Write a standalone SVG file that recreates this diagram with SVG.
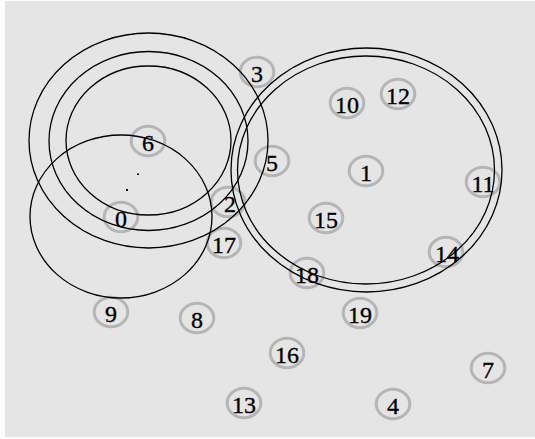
<svg xmlns="http://www.w3.org/2000/svg" width="535" height="439" viewBox="0 0 535 439">
<style>
.ring{fill:none;stroke:#b5b5b5;stroke-width:3}
.lbl{font-family:"Liberation Serif","Times New Roman",serif;font-size:24px;fill:#000;stroke:#000;stroke-width:0.35;text-anchor:middle}
.arc{fill:none;stroke:#000;stroke-width:1.3}
</style>
<rect x="0" y="0" width="535" height="439" fill="#ffffff"/>
<rect x="5" y="1" width="530" height="436" fill="#e5e5e5"/>
<g id="nodes">
<g id="n0"><ellipse class="ring" cx="121" cy="217" rx="16.8" ry="14.7"/><text class="lbl" x="121" y="227">0</text></g>
<g id="n1"><ellipse class="ring" cx="366" cy="171" rx="16.8" ry="14.7"/><text class="lbl" x="366" y="181">1</text></g>
<g id="n2"><ellipse class="ring" cx="228" cy="202" rx="16.8" ry="14.7"/><text class="lbl" x="230" y="212">2</text></g>
<g id="n3"><ellipse class="ring" cx="257" cy="72" rx="16.8" ry="14.7"/><text class="lbl" x="257" y="82">3</text></g>
<g id="n4"><ellipse class="ring" cx="393" cy="404" rx="16.8" ry="14.7"/><text class="lbl" x="393" y="414">4</text></g>
<g id="n5"><ellipse class="ring" cx="272" cy="161" rx="16.8" ry="14.7"/><text class="lbl" x="272" y="171">5</text></g>
<g id="n6"><ellipse class="ring" cx="148" cy="141" rx="16.8" ry="14.7"/><text class="lbl" x="148" y="151">6</text></g>
<g id="n7"><ellipse class="ring" cx="488" cy="368" rx="16.8" ry="14.7"/><text class="lbl" x="488" y="378">7</text></g>
<g id="n8"><ellipse class="ring" cx="197" cy="318" rx="16.8" ry="14.7"/><text class="lbl" x="197" y="328">8</text></g>
<g id="n9"><ellipse class="ring" cx="111" cy="312" rx="16.8" ry="14.7"/><text class="lbl" x="111" y="322">9</text></g>
<g id="n10"><ellipse class="ring" cx="347" cy="103" rx="16.8" ry="14.7"/><text class="lbl" x="347" y="113">10</text></g>
<g id="n11"><ellipse class="ring" cx="483" cy="182" rx="16.8" ry="14.7"/><text class="lbl" x="483" y="192">11</text></g>
<g id="n12"><ellipse class="ring" cx="398" cy="94" rx="16.8" ry="14.7"/><text class="lbl" x="398" y="104">12</text></g>
<g id="n13"><ellipse class="ring" cx="244" cy="403" rx="16.8" ry="14.7"/><text class="lbl" x="244" y="413">13</text></g>
<g id="n14"><ellipse class="ring" cx="446" cy="252" rx="16.8" ry="14.7"/><text class="lbl" x="447" y="262">14</text></g>
<g id="n15"><ellipse class="ring" cx="326" cy="218" rx="16.8" ry="14.7"/><text class="lbl" x="326" y="228">15</text></g>
<g id="n16"><ellipse class="ring" cx="287" cy="353" rx="16.8" ry="14.7"/><text class="lbl" x="287" y="363">16</text></g>
<g id="n17"><ellipse class="ring" cx="224" cy="243" rx="16.8" ry="14.7"/><text class="lbl" x="224" y="253">17</text></g>
<g id="n18"><ellipse class="ring" cx="307" cy="273" rx="16.8" ry="14.7"/><text class="lbl" x="307" y="283">18</text></g>
<g id="n19"><ellipse class="ring" cx="360" cy="313" rx="16.8" ry="14.7"/><text class="lbl" x="360" y="323">19</text></g>
</g>
<g id="connectors">
<ellipse class="arc" cx="148.5" cy="140.5" rx="119.5" ry="107.5"/>
<ellipse class="arc" cx="148.5" cy="141" rx="99.5" ry="89.5"/>
<ellipse class="arc" cx="148.5" cy="140.5" rx="82.5" ry="74.5"/>
<ellipse class="arc" cx="121" cy="216.5" rx="91" ry="81.5"/>
<ellipse class="arc" cx="366.5" cy="170" rx="135.5" ry="122"/>
<ellipse class="arc" cx="366" cy="170" rx="128.5" ry="114"/>
<rect x="137" y="173.5" width="2" height="1.5" fill="#000"/>
<rect x="126" y="189" width="2" height="2" fill="#000"/>
</g>
</svg>
